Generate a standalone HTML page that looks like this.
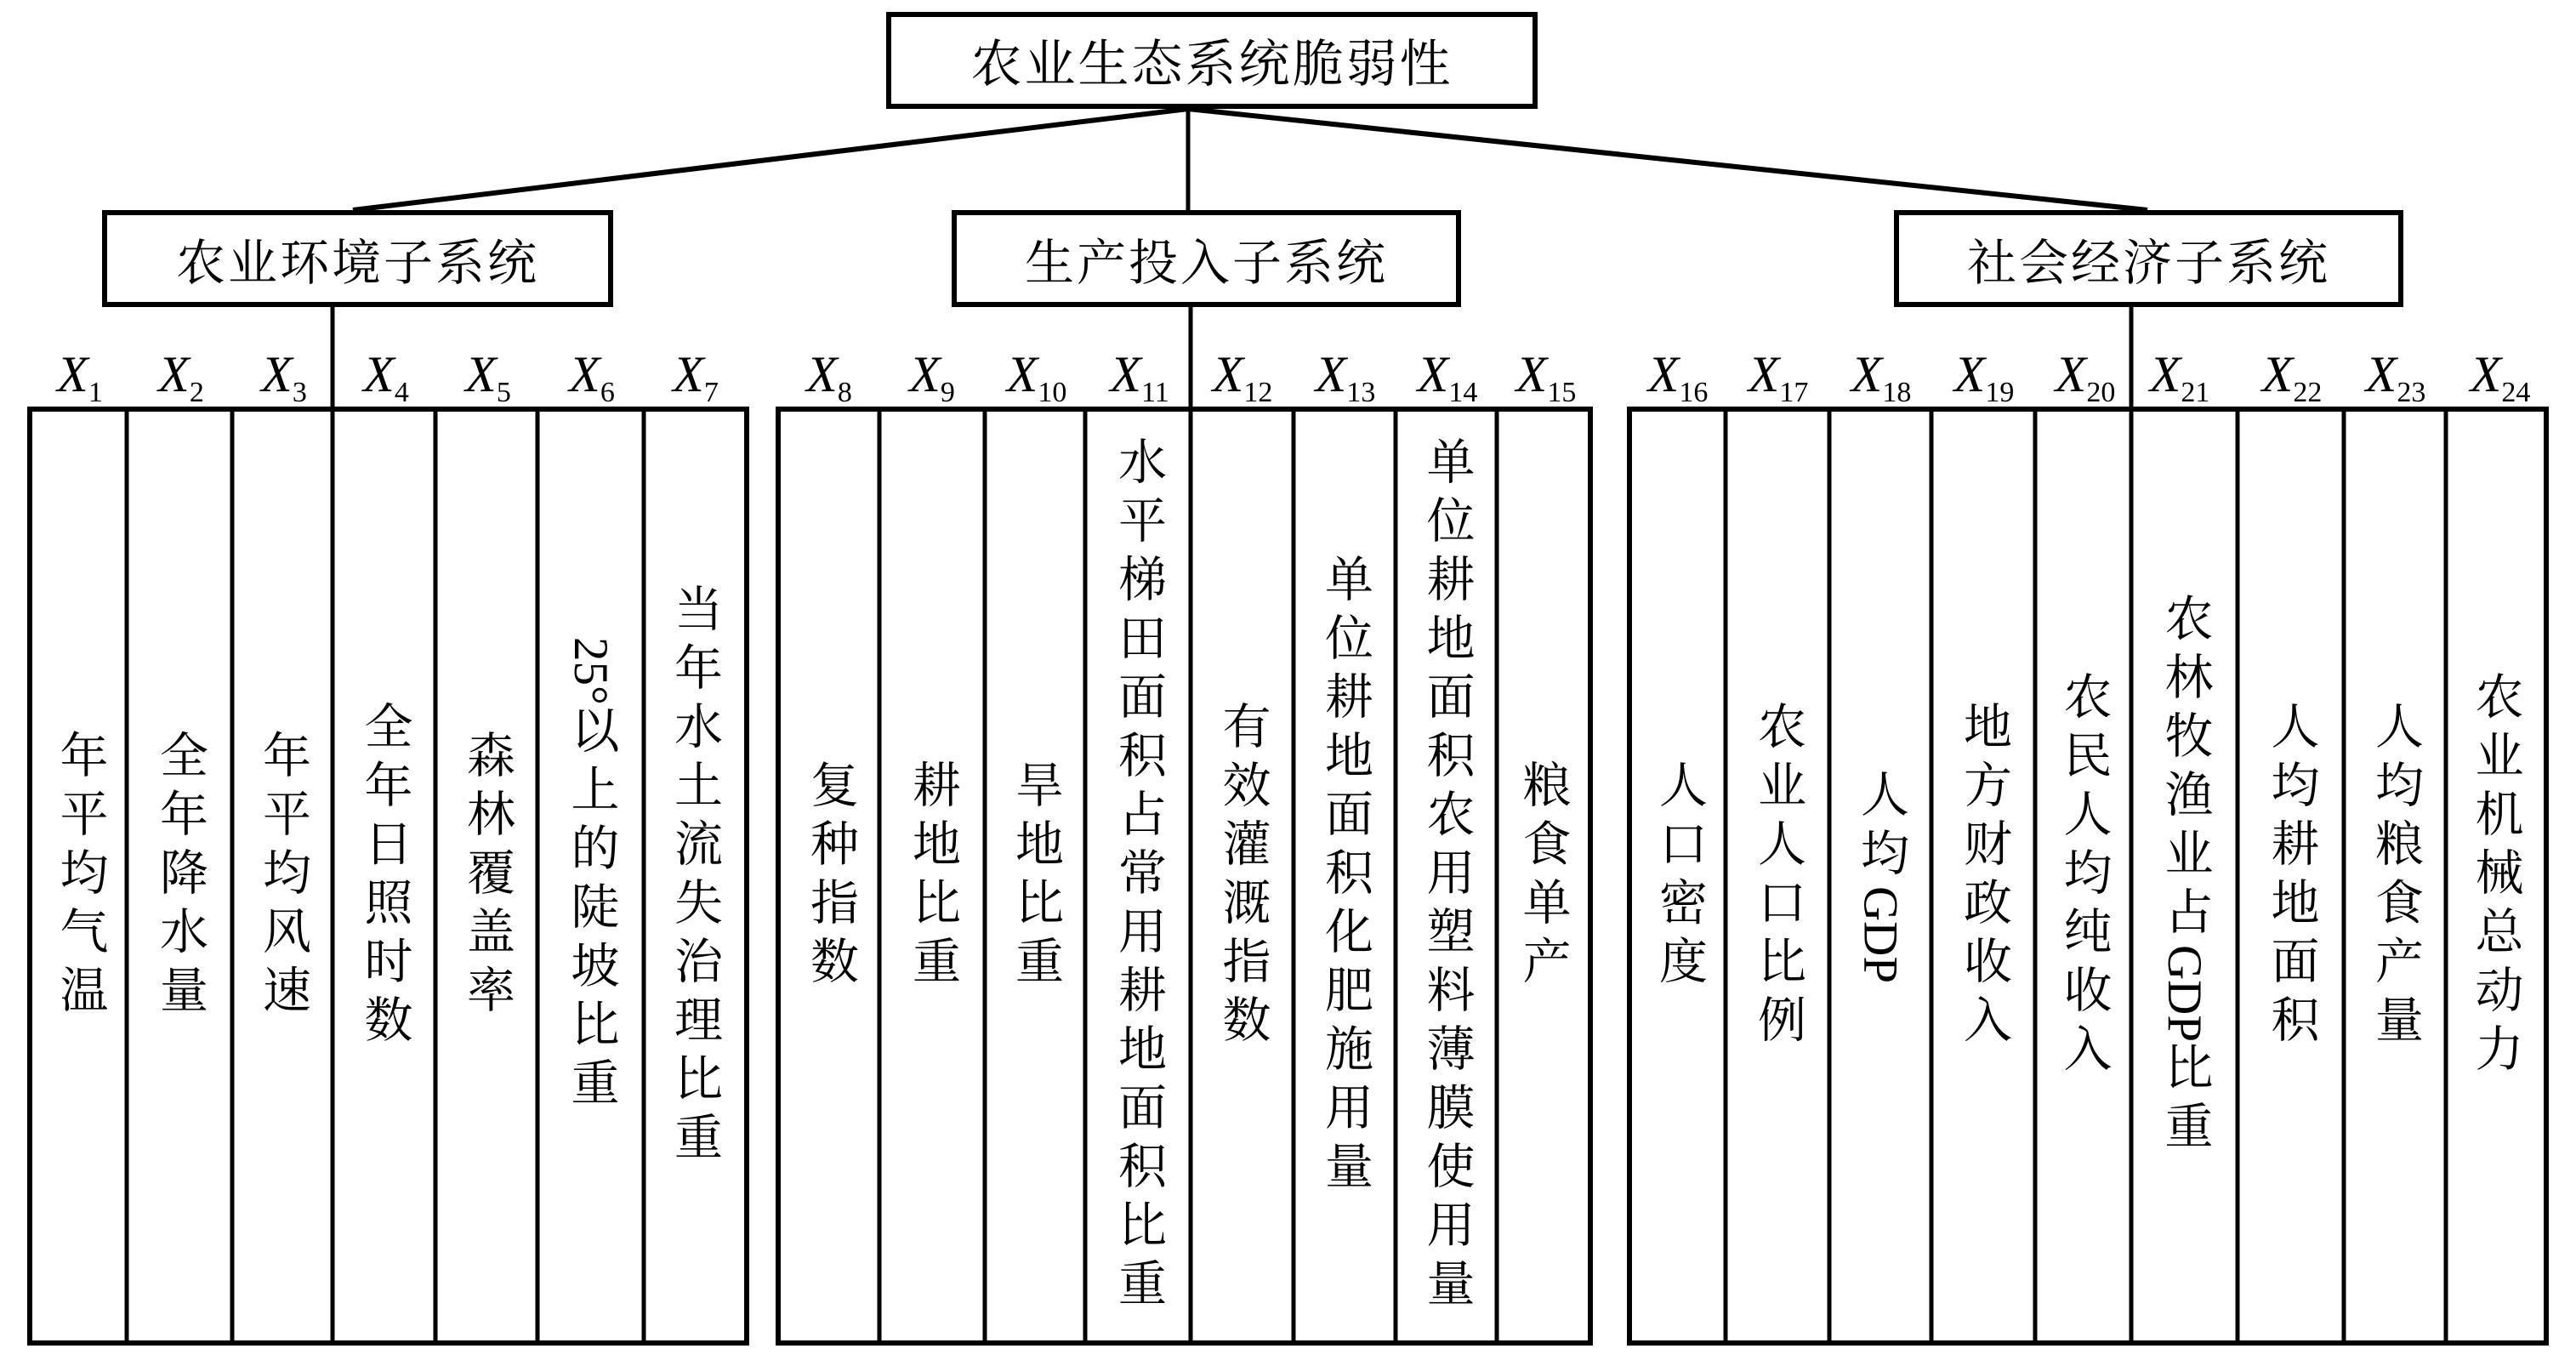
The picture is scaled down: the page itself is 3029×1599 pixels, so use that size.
<!DOCTYPE html>
<html><head><meta charset="utf-8">
<style>
html,body{margin:0;padding:0;background:#fff;}
body{width:3029px;height:1599px;position:relative;overflow:hidden;font-family:"Liberation Serif","Noto Serif CJK SC",serif;color:#000;}
.c{position:absolute;top:484px;height:1093px;display:flex;align-items:center;justify-content:center;}
.c .t{writing-mode:vertical-rl;font-size:57px;letter-spacing:12px;line-height:1;white-space:nowrap;}
.c .l{letter-spacing:0;}
.h{position:absolute;display:flex;align-items:center;justify-content:center;font-size:58px;letter-spacing:3px;white-space:nowrap;}
svg{position:absolute;left:0;top:0;}
</style></head><body>
<svg width="3029" height="1599" viewBox="0 0 3029 1599">
<g fill="none" stroke="#000">
<rect x="1045" y="17" width="760" height="108" stroke-width="6"/>
<rect x="123" y="250" width="595" height="108" stroke-width="6"/>
<rect x="1122" y="250" width="593" height="108" stroke-width="6"/>
<rect x="2230" y="250" width="593" height="108" stroke-width="6"/>
<line x1="1397" y1="128" x2="1397" y2="247" stroke-width="5"/>
<line x1="1397" y1="128" x2="415" y2="247" stroke-width="6"/>
<line x1="1397" y1="128" x2="2525" y2="247" stroke-width="6"/>
<line x1="391" y1="361" x2="391" y2="481" stroke-width="5"/>
<line x1="1400" y1="361" x2="1400" y2="481" stroke-width="5"/>
<line x1="2506" y1="361" x2="2506" y2="481" stroke-width="5"/>
<rect x="35" y="481" width="843" height="1098" stroke-width="6"/>
<rect x="915" y="481" width="955" height="1098" stroke-width="6"/>
<rect x="1916" y="481" width="1078" height="1098" stroke-width="6"/>
<g stroke-width="5">
<line x1="149" y1="481" x2="149" y2="1579"/>
<line x1="273" y1="481" x2="273" y2="1579"/>
<line x1="391" y1="481" x2="391" y2="1579"/>
<line x1="512" y1="481" x2="512" y2="1579"/>
<line x1="632" y1="481" x2="632" y2="1579"/>
<line x1="757" y1="481" x2="757" y2="1579"/>
<line x1="1034" y1="481" x2="1034" y2="1579"/>
<line x1="1158" y1="481" x2="1158" y2="1579"/>
<line x1="1276" y1="481" x2="1276" y2="1579"/>
<line x1="1400" y1="481" x2="1400" y2="1579"/>
<line x1="1521" y1="481" x2="1521" y2="1579"/>
<line x1="1641" y1="481" x2="1641" y2="1579"/>
<line x1="1760" y1="481" x2="1760" y2="1579"/>
<line x1="2029" y1="481" x2="2029" y2="1579"/>
<line x1="2151" y1="481" x2="2151" y2="1579"/>
<line x1="2271" y1="481" x2="2271" y2="1579"/>
<line x1="2393" y1="481" x2="2393" y2="1579"/>
<line x1="2506" y1="481" x2="2506" y2="1579"/>
<line x1="2631" y1="481" x2="2631" y2="1579"/>
<line x1="2756" y1="481" x2="2756" y2="1579"/>
<line x1="2876" y1="481" x2="2876" y2="1579"/>
</g>
</g>
<g font-family="Liberation Serif, serif" font-size="60" text-anchor="middle" fill="#000">
<text x="94" y="460"><tspan font-style="italic">X</tspan><tspan font-size="34" dy="12">1</tspan></text>
<text x="213" y="460"><tspan font-style="italic">X</tspan><tspan font-size="34" dy="12">2</tspan></text>
<text x="334" y="460"><tspan font-style="italic">X</tspan><tspan font-size="34" dy="12">3</tspan></text>
<text x="454" y="460"><tspan font-style="italic">X</tspan><tspan font-size="34" dy="12">4</tspan></text>
<text x="574" y="460"><tspan font-style="italic">X</tspan><tspan font-size="34" dy="12">5</tspan></text>
<text x="696" y="460"><tspan font-style="italic">X</tspan><tspan font-size="34" dy="12">6</tspan></text>
<text x="818" y="460"><tspan font-style="italic">X</tspan><tspan font-size="34" dy="12">7</tspan></text>
<text x="975" y="460"><tspan font-style="italic">X</tspan><tspan font-size="34" dy="12">8</tspan></text>
<text x="1096" y="460"><tspan font-style="italic">X</tspan><tspan font-size="34" dy="12">9</tspan></text>
<text x="1219" y="460"><tspan font-style="italic">X</tspan><tspan font-size="34" dy="12">10</tspan></text>
<text x="1340" y="460"><tspan font-style="italic">X</tspan><tspan font-size="34" dy="12">11</tspan></text>
<text x="1461" y="460"><tspan font-style="italic">X</tspan><tspan font-size="34" dy="12">12</tspan></text>
<text x="1582" y="460"><tspan font-style="italic">X</tspan><tspan font-size="34" dy="12">13</tspan></text>
<text x="1702" y="460"><tspan font-style="italic">X</tspan><tspan font-size="34" dy="12">14</tspan></text>
<text x="1818" y="460"><tspan font-style="italic">X</tspan><tspan font-size="34" dy="12">15</tspan></text>
<text x="1973" y="460"><tspan font-style="italic">X</tspan><tspan font-size="34" dy="12">16</tspan></text>
<text x="2091" y="460"><tspan font-style="italic">X</tspan><tspan font-size="34" dy="12">17</tspan></text>
<text x="2212" y="460"><tspan font-style="italic">X</tspan><tspan font-size="34" dy="12">18</tspan></text>
<text x="2333" y="460"><tspan font-style="italic">X</tspan><tspan font-size="34" dy="12">19</tspan></text>
<text x="2452" y="460"><tspan font-style="italic">X</tspan><tspan font-size="34" dy="12">20</tspan></text>
<text x="2563" y="460"><tspan font-style="italic">X</tspan><tspan font-size="34" dy="12">21</tspan></text>
<text x="2695" y="460"><tspan font-style="italic">X</tspan><tspan font-size="34" dy="12">22</tspan></text>
<text x="2817" y="460"><tspan font-style="italic">X</tspan><tspan font-size="34" dy="12">23</tspan></text>
<text x="2940" y="460"><tspan font-style="italic">X</tspan><tspan font-size="34" dy="12">24</tspan></text>
</g>
</svg>
<div class="h" style="left:1048px;top:20px;width:754px;height:102px;font-size:60px;">农业生态系统脆弱性</div>
<div class="h" style="left:126px;top:253px;width:589px;height:102px;">农业环境子系统</div>
<div class="h" style="left:1125px;top:253px;width:587px;height:102px;">生产投入子系统</div>
<div class="h" style="left:2233px;top:253px;width:587px;height:102px;">社会经济子系统</div>

<div class="c" style="left:38px;width:111px"><span class="t">年平均气温</span></div>
<div class="c" style="left:149px;width:124px"><span class="t">全年降水量</span></div>
<div class="c" style="left:273px;width:118px"><span class="t">年平均风速</span></div>
<div class="c" style="left:391px;width:121px"><span class="t">全年日照时数</span></div>
<div class="c" style="left:512px;width:120px"><span class="t">森林覆盖率</span></div>
<div class="c" style="left:632px;width:125px"><span class="t"><span class="l">25°</span>以上的陡坡比重</span></div>
<div class="c" style="left:757px;width:118px"><span class="t">当年水土流失治理比重</span></div>
<div class="c" style="left:918px;width:116px"><span class="t">复种指数</span></div>
<div class="c" style="left:1034px;width:124px"><span class="t">耕地比重</span></div>
<div class="c" style="left:1158px;width:118px"><span class="t">旱地比重</span></div>
<div class="c" style="left:1276px;width:124px"><span class="t">水平梯田面积占常用耕地面积比重</span></div>
<div class="c" style="left:1400px;width:121px"><span class="t">有效灌溉指数</span></div>
<div class="c" style="left:1521px;width:120px"><span class="t">单位耕地面积化肥施用量</span></div>
<div class="c" style="left:1641px;width:119px"><span class="t">单位耕地面积农用塑料薄膜使用量</span></div>
<div class="c" style="left:1760px;width:107px"><span class="t">粮食单产</span></div>
<div class="c" style="left:1919px;width:110px"><span class="t">人口密度</span></div>
<div class="c" style="left:2029px;width:122px"><span class="t">农业人口比例</span></div>
<div class="c" style="left:2151px;width:120px"><span class="t">人均<span class="l">GDP</span></span></div>
<div class="c" style="left:2271px;width:122px"><span class="t">地方财政收入</span></div>
<div class="c" style="left:2393px;width:113px"><span class="t">农民人均纯收入</span></div>
<div class="c" style="left:2506px;width:125px"><span class="t">农林牧渔业占<span class="l">GDP</span>比重</span></div>
<div class="c" style="left:2631px;width:125px"><span class="t">人均耕地面积</span></div>
<div class="c" style="left:2756px;width:120px"><span class="t">人均粮食产量</span></div>
<div class="c" style="left:2876px;width:115px"><span class="t">农业机械总动力</span></div>
</body></html>
